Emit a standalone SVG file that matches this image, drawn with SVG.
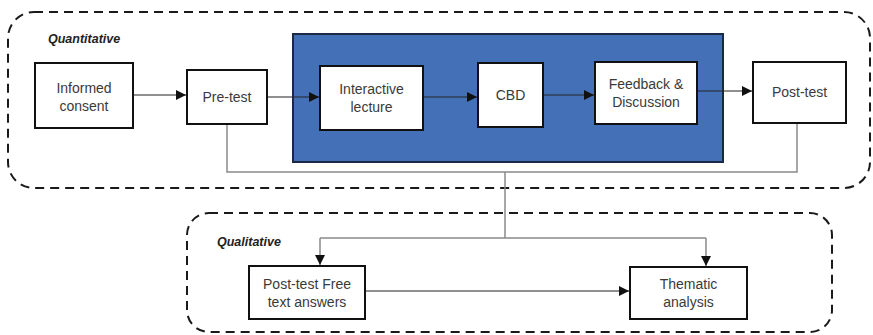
<svg xmlns="http://www.w3.org/2000/svg" width="873" height="335" viewBox="0 0 873 335">
  <style>
    .zone { fill: none; stroke: #1a1a1a; stroke-width: 2; stroke-dasharray: 9 6; }
    .zone-label { font-family: "Liberation Sans", Arial, sans-serif; font-size: 12.5px; font-weight: bold; font-style: italic; fill: #222; }
    .box { fill: #ffffff; stroke: #111; stroke-width: 2; }
    .stage { fill: #4470b8; stroke: #1b2a44; stroke-width: 2; }
    .label { font-family: "Liberation Sans", Arial, sans-serif; font-size: 14px; fill: #3a3a3a; text-anchor: middle; }
    .flow { fill: none; stroke: #222; stroke-width: 1.2; }
    .link { fill: none; stroke: #8a8a8a; stroke-width: 1.5; }
  </style>
  <defs>
    <marker id="head" viewBox="0 0 10 10" refX="10" refY="5" markerWidth="11" markerHeight="10" markerUnits="userSpaceOnUse" orient="auto">
      <path d="M0,0 L10,5 L0,10 Z" fill="#111"/>
    </marker>
  </defs>

  <g id="zone-quantitative">
    <rect class="zone" x="8" y="12" width="862" height="176" rx="26" ry="26"/>
    <text class="zone-label" x="48" y="43">Quantitative</text>
  </g>
  <g id="zone-qualitative">
    <rect class="zone" x="187" y="213" width="645" height="119" rx="22" ry="22"/>
    <text class="zone-label" x="217" y="246">Qualitative</text>
  </g>

  <g id="intervention">
    <rect class="stage" x="293" y="34" width="430" height="128"/>
  </g>

  <g id="connectors">
    <path class="link" d="M227,124 V172 H797 V123"/>
    <path class="link" d="M505,172 V238"/>
    <path class="link" d="M320,238 H706"/>
    <path class="link" d="M320,238 V265" marker-end="url(#head)"/>
    <path class="link" d="M706,238 V266" marker-end="url(#head)"/>
    <path class="flow" d="M133,95 H186" marker-end="url(#head)"/>
    <path class="flow" d="M267,97 H319" marker-end="url(#head)"/>
    <path class="flow" d="M423,97 H477" marker-end="url(#head)"/>
    <path class="flow" d="M543,95 H594" marker-end="url(#head)"/>
    <path class="flow" d="M697,91 H752" marker-end="url(#head)"/>
    <path class="flow" d="M365,291 H629" marker-end="url(#head)"/>
  </g>

  <g id="informed-consent">
    <rect class="box" x="35" y="63" width="98" height="65"/>
    <text class="label" x="84" y="93">Informed</text>
    <text class="label" x="84" y="111">consent</text>
  </g>
  <g id="pre-test">
    <rect class="box" x="187" y="70" width="80" height="54"/>
    <text class="label" x="227" y="102">Pre-test</text>
  </g>
  <g id="interactive-lecture">
    <rect class="box" x="320" y="66" width="103" height="64"/>
    <text class="label" x="371.5" y="94">Interactive</text>
    <text class="label" x="371.5" y="112">lecture</text>
  </g>
  <g id="cbd">
    <rect class="box" x="478" y="63" width="65" height="64"/>
    <text class="label" x="510.5" y="100">CBD</text>
  </g>
  <g id="feedback-discussion">
    <rect class="box" x="595" y="62" width="102" height="62"/>
    <text class="label" x="646" y="89">Feedback &amp;</text>
    <text class="label" x="646" y="107">Discussion</text>
  </g>
  <g id="post-test">
    <rect class="box" x="753" y="62" width="93" height="61"/>
    <text class="label" x="799.5" y="97">Post-test</text>
  </g>
  <g id="free-text-answers">
    <rect class="box" x="249" y="266" width="116" height="53"/>
    <text class="label" x="307" y="289">Post-test Free</text>
    <text class="label" x="307" y="307">text answers</text>
  </g>
  <g id="thematic-analysis">
    <rect class="box" x="630" y="267" width="117" height="52"/>
    <text class="label" x="688.5" y="289">Thematic</text>
    <text class="label" x="688.5" y="307">analysis</text>
  </g>
</svg>
